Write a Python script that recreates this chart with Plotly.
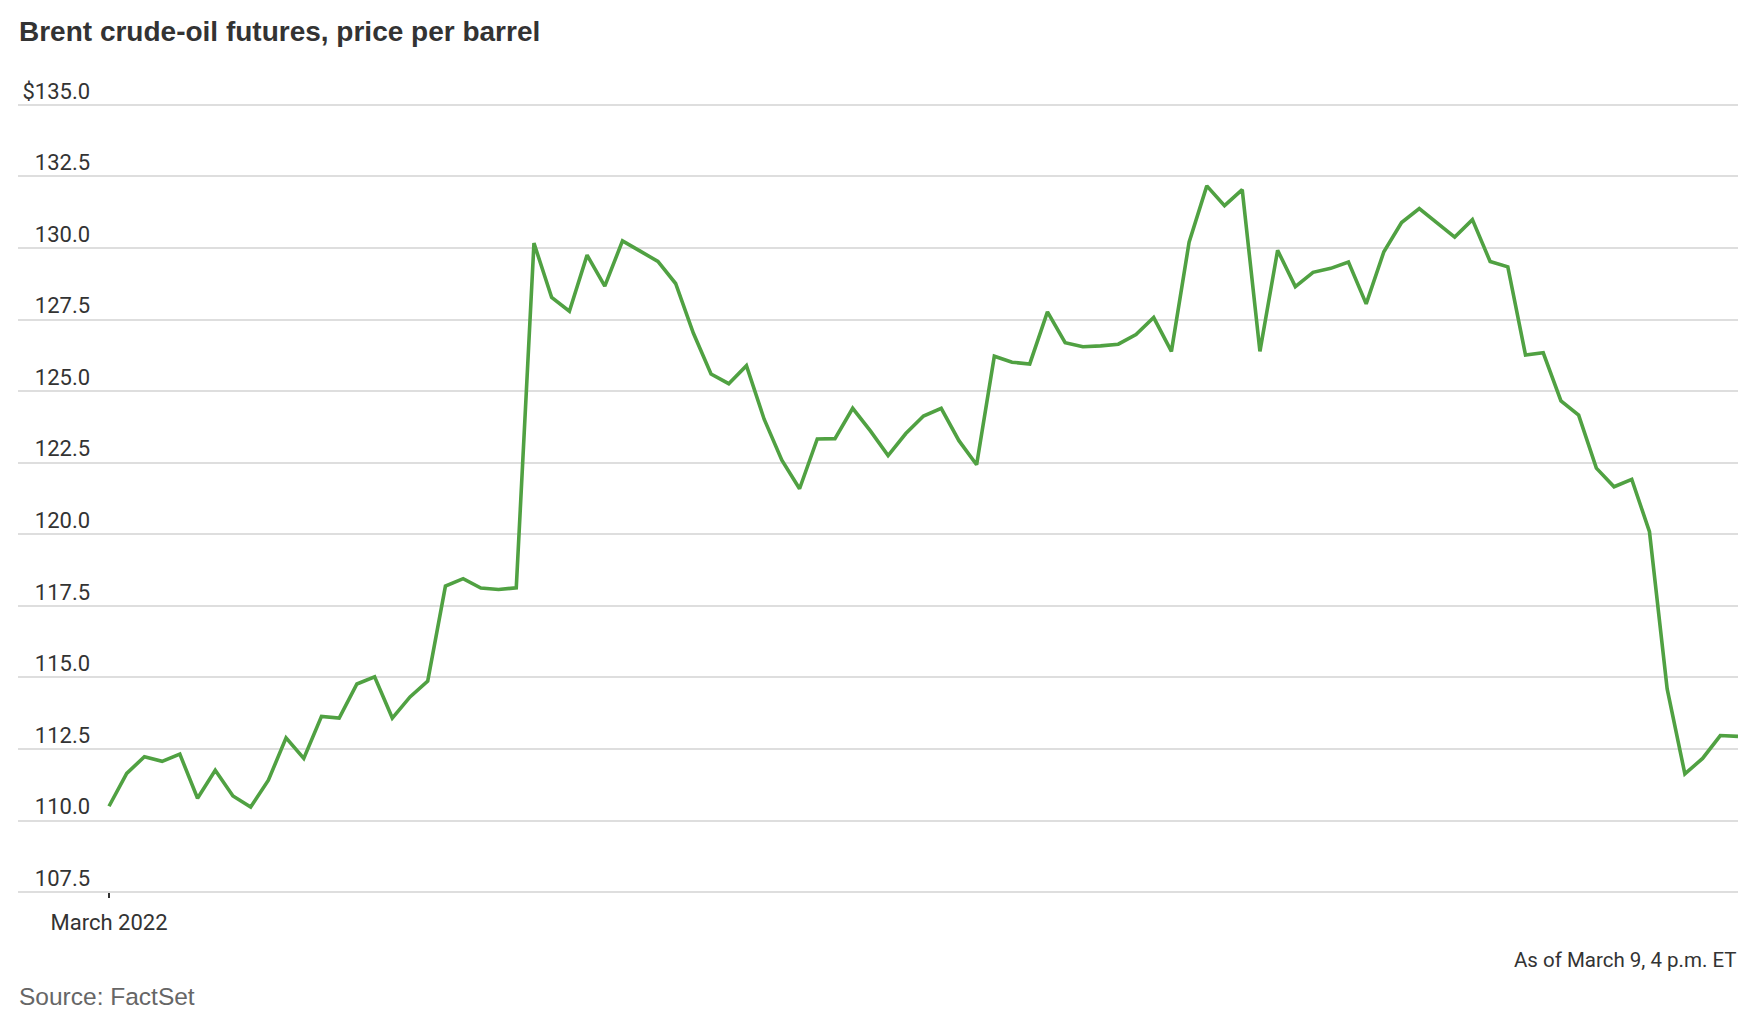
import plotly.graph_objects as go

# Brent crude-oil futures, intraday readings (price per barrel, $)
prices = [
    110.5, 111.65, 112.23, 112.07, 112.32, 110.78, 111.76, 110.86, 110.47, 111.41,
    112.89, 112.17, 113.64, 113.58, 114.77, 115.02, 113.58, 114.32, 114.87, 118.19,
    118.45, 118.12, 118.07, 118.13, 130.17,
    128.27, 127.79, 129.75, 128.67, 130.25, 129.89, 129.53, 128.76, 127.03, 125.60,
    125.26, 125.89, 124.02, 122.59, 121.59, 123.33, 123.34, 124.40, 123.61, 122.75,
    123.52, 124.13, 124.40, 123.27, 122.43,
    126.22, 126.01, 125.95, 127.77, 126.69, 126.55, 126.58, 126.64, 126.98, 127.57,
    126.39, 130.20, 132.17, 131.48, 132.04, 126.39, 129.92, 128.65, 129.15, 129.29,
    129.51, 128.05, 129.87,
    130.89, 131.38, 130.88, 130.38, 130.99, 129.53, 129.34, 126.26, 126.34, 124.66,
    124.16, 122.31, 121.66, 121.92, 120.09, 114.60, 111.63, 112.17, 112.97, 112.94,
]
points = list(range(len(prices)))

y_tickvals = [107.5, 110.0, 112.5, 115.0, 117.5, 120.0, 122.5, 125.0, 127.5, 130.0, 132.5, 135.0]
y_ticktext = ["107.5", "110.0", "112.5", "115.0", "117.5", "120.0", "122.5", "125.0",
              "127.5", "130.0", "132.5", "$135.0"]
x_tickvals = [0]
x_ticktext = ["March 2022"]

title_text = "Brent crude-oil futures, price per barrel"
note_text = "As of March 9, 4 p.m. ET"
source_text = "Source: FactSet"

TICKFONT = "Roboto"
REG = "Liberation Sans"

fig = go.Figure()
fig.add_trace(go.Scatter(
    x=points, y=prices, mode="lines",
    line=dict(color="#50a142", width=3.6),
    hoverinfo="skip", showlegend=False,
))

fig.update_layout(
    width=1746, height=1000,
    margin=dict(l=10, r=16, t=94, b=113, pad=0),
    paper_bgcolor="white", plot_bgcolor="white",
    showlegend=False,
    xaxis=dict(
        range=[-5.14, len(prices) - 1],
        tickvals=x_tickvals, ticktext=x_ticktext,
        ticks="outside", ticklen=5, tickwidth=2, tickcolor="#333333",
        showgrid=False, zeroline=False, showline=False,
        anchor="free", position=0.0036,
        tickfont=dict(family=TICKFONT, size=22, color="#333333"),
        ticklabelstandoff=5,
        automargin=False, fixedrange=True,
    ),
    yaxis=dict(
        range=[107.4, 135.1],
        tickvals=y_tickvals, ticktext=y_ticktext,
        ticks="", showgrid=True, gridcolor="#dedede", gridwidth=1.5,
        zeroline=False, showline=False,
        anchor="free", position=0.0419,
        ticklabelshift=-14,
        tickfont=dict(family=TICKFONT, size=22, color="#333333"),
        automargin=False, fixedrange=True,
    ),
    annotations=[
        dict(text="<b>" + title_text + "</b>", xref="paper", yref="paper",
             x=-0.0005, y=1.0895, xanchor="left", yanchor="middle", showarrow=False,
             font=dict(family=REG, size=28, color="#333333")),
        dict(text=note_text, xref="paper", yref="paper",
             x=1.0003, y=-0.082, xanchor="right", yanchor="middle", showarrow=False,
             font=dict(family=TICKFONT, size=20.5, color="#333333")),
        dict(text=source_text, xref="paper", yref="paper",
             x=-0.0005, y=-0.1274, xanchor="left", yanchor="middle", showarrow=False,
             font=dict(family=REG, size=24.5, color="#666666")),
    ],
)

fig.write_html("out.html")
